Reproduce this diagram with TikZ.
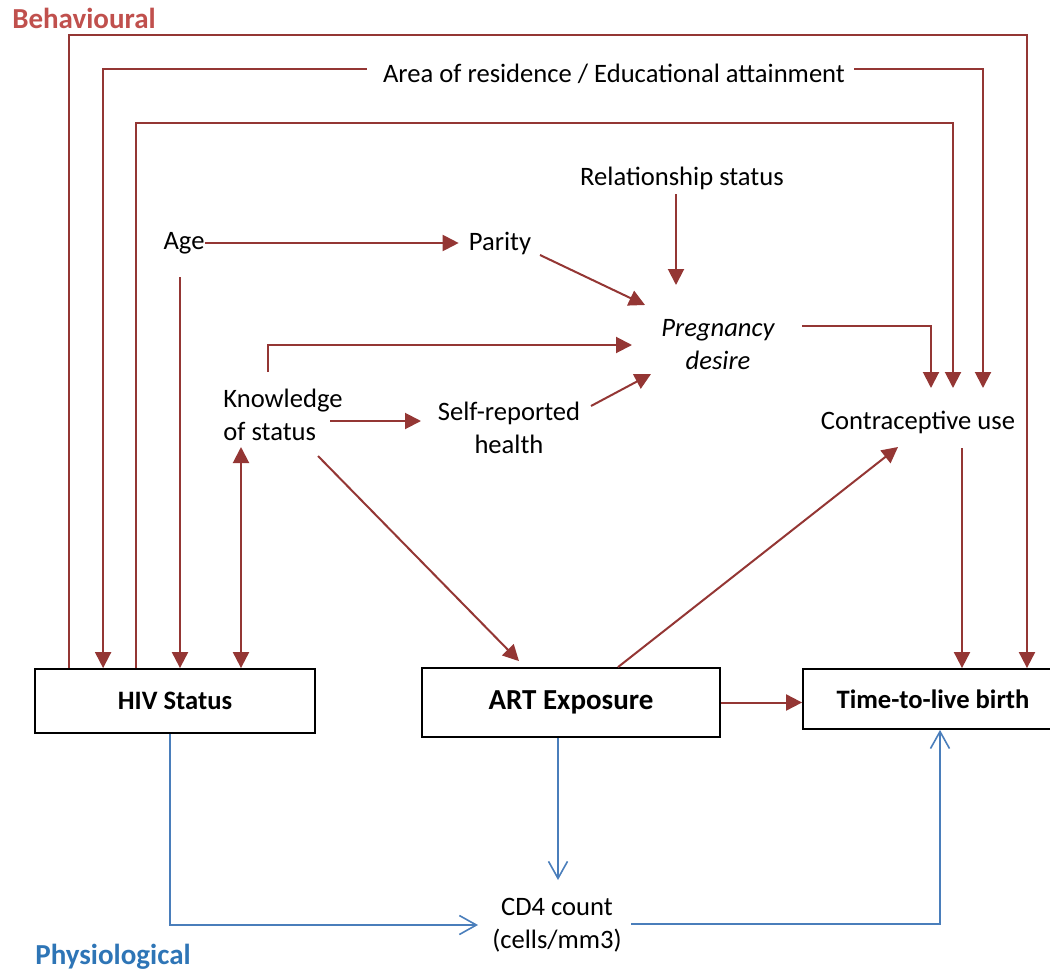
\documentclass[tikz,border=0pt]{standalone}
\usepackage{fontspec}
\setmainfont{Carlito}
\usetikzlibrary{arrows.meta,calc}
\definecolor{bred}{HTML}{943634}
\definecolor{lblred}{HTML}{C0504D}
\definecolor{bblue}{HTML}{4A7EBB}
\definecolor{lblblue}{HTML}{2E75B6}

\begin{document}
\begin{tikzpicture}[x=1pt,y=-1pt,
  txt/.style={inner sep=0pt, font=\fontsize{26.6}{33}\selectfont, align=center},
  hdr/.style={inner sep=0pt, font=\fontsize{29}{35}\selectfont\bfseries},
  box/.style={draw=black, line width=1.8pt, inner sep=0pt, font=\fontsize{26.6}{33}\selectfont\bfseries},
  rl/.style={draw=bred, line width=2pt},
  ra/.style={rl, -{Triangle[length=16pt,width=16pt]}},
  rab/.style={rl, {Triangle[length=16pt,width=16pt]}-{Triangle[length=16pt,width=16pt]}},
  bl/.style={draw=bblue, line width=1.6pt, -{Straight Barb[length=17pt,width=19pt]}},
  ]
\clip (0,0) rectangle (1050,977);

% group labels
\node[hdr, text=lblred] (beh) at (84,18) {Behavioural};
\node[hdr, text=lblblue] (phy) at (113,957) {Physiological};

% factors
\node[txt] (area) at (614,74) {Area of residence / Educational attainment};
\node[txt] (rel) at (682,178) {Relationship status};
\node[txt] (age) at (184,243) {Age};
\node[txt] (par) at (500,243) {Parity};
\node[txt, font=\fontsize{26.6}{33}\selectfont\itshape] (preg) at (718,345) {Pregnancy\\desire};
\node[txt, align=left] (know) at (283,415) {Knowledge\\of status};
\node[txt] (self) at (509,428) {Self-reported\\health};
\node[txt] (contra) at (918,422) {Contraceptive use};
\node[txt] (cd4) at (557,925) {CD4 count\\(cells/mm3)};

% outcome boxes
\node[box, minimum width=280pt, minimum height=64pt] (hiv) at (175,701) {HIV Status};
\node[box, minimum width=298pt, minimum height=69pt, font=\fontsize{29}{35}\selectfont\bfseries] (art) at (571,702.5) {ART Exposure};
\node[box, minimum width=260pt, minimum height=60pt] (tlb) at (933,699) {Time-to-live birth};

% corner points of the long feedback lines
\coordinate (top1) at (1027,35);
\coordinate (top3) at (953,123);

% behavioural pathways
\draw[ra] ($(hiv.north west)+(35,0)$) |- (top1) -- (top1 |- tlb.north);
\draw[ra] ($(area.west)+(-16,-5)$) -| ($(hiv.north west)+(69,0)$);
\draw[ra] ($(area.east)+(9,-5)$) -| ($(contra)+(65,-34)$);
\draw[ra] ($(hiv.north west)+(102,0)$) |- (top3) -- ($(contra)+(35,-34)$);

\draw[ra] (age.east) -- ($(par.west)+(-10,0)$);
\coordinate (agecol) at ($(age)+(-4,34)$);
\draw[ra] (agecol) -- (agecol |- hiv.north);

\draw[ra] ($(par)+(40,12)$) -- ($(preg)+(-73,-40)$);
\draw[ra] ($(rel)+(-6,16)$) -- ($(preg)+(-42,-60)$);
\draw[ra] ($(know)+(-15,-43)$) |- ($(preg)+(-86,0)$);
\draw[ra] ($(know)+(47,6)$) -- ($(self)+(-88,-7)$);
\draw[ra] ($(self)+(82,-22)$) -- ($(preg)+(-67,29)$);
\draw[ra] ($(preg)+(84,-19)$) -| ($(contra)+(13,-34)$);

\coordinate (kcol) at ($(know)+(-42,32)$);
\draw[rab] (kcol) -- (kcol |- hiv.north);

\draw[ra] ($(know)+(35,41)$) -- ($(art.north)+(-52,-6)$);
\draw[ra] ($(art.north)+(47,0)$) -- ($(contra)+(-20,25)$);

\coordinate (ccol) at ($(contra)+(44,26)$);
\draw[ra] (ccol) -- (ccol |- tlb.north);
\draw[ra] (art.east) -- (art.east -| tlb.west);

% physiological pathways
\draw[bl] ($(hiv.south)+(-5,0)$) |- ($(cd4)+(-79,0)$);
\draw[bl] ($(art.south)+(-13,0)$) -- ($(cd4)+(1,-45)$);
\draw[bl] ($(cd4)+(74,-1)$) -| ($(tlb.south)+(7,0)$);
\end{tikzpicture}
\end{document}
